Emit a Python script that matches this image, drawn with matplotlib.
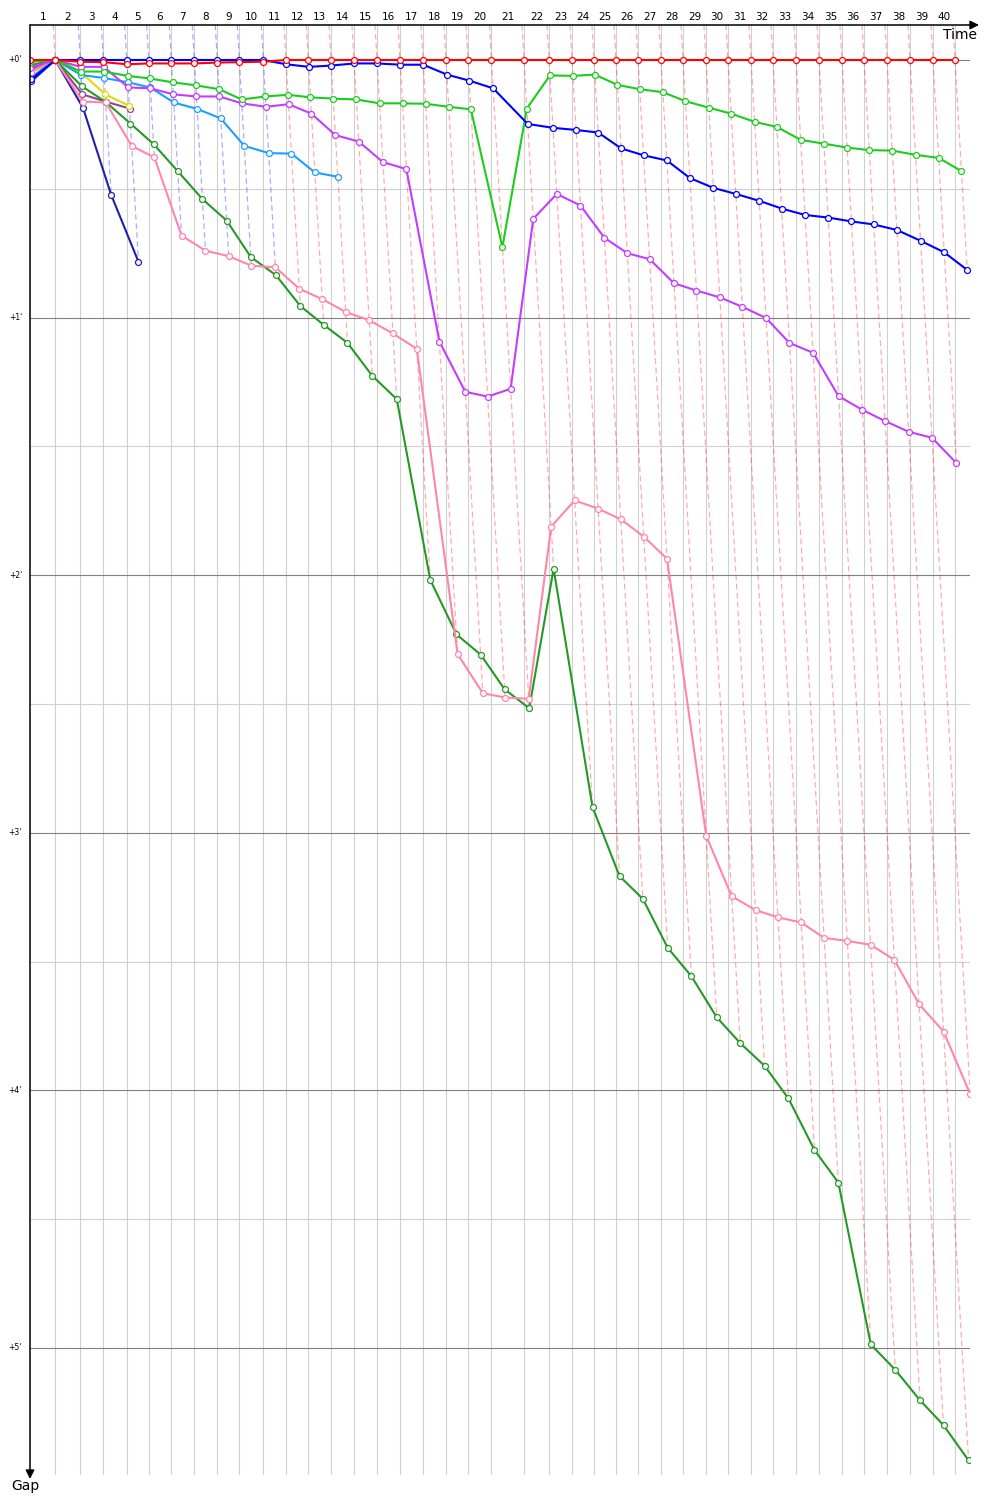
import matplotlib
matplotlib.use('Agg')
import matplotlib.pyplot as plt
import matplotlib.transforms as mtransforms
import numpy as np

plt.rcParams['font.family'] = ['DejaVu Sans']
plt.rcParams['lines.scale_dashes'] = False

# ---------------- data ----------------
lap_numbers = list(range(1, 41))
# leader lap times in seconds (lap 1 .. lap 40)
leader_lap_times = [101.2, 100.0, 92.0, 93.6, 88.0, 90.4, 92.0, 92.0, 88.0, 96.0,
                    90.8, 89.2, 90.8, 92.0, 92.0, 92.0, 92.0, 92.0, 88.0, 94.0,
                    130.0, 100.0, 92.0, 88.0, 88.0, 88.0, 92.0, 88.0, 92.0, 88.0,
                    92.0, 88.0, 92.0, 92.0, 92.0, 88.0, 92.0, 92.0, 92.0, 88.0]

# gaps to the leader in seconds, from lap 0 (start) onward
gap_red = [0.0, 0.0, 0.4, 0.5, 1.0, 0.8, 0.8, 0.8, 0.6, 0.5, 0.4] + [0.0] * 30
gap_blue = [4.5, 0.0] + [0.0] * 9 + [1.0, 1.6, 1.3, 0.8, 0.8, 1.1, 1.1, 3.4, 4.8, 6.6,
                                    14.9, 15.8, 16.3, 16.9, 20.6, 22.2, 23.4, 27.5, 29.8, 31.2,
                                    32.8, 34.6, 36.1, 36.7, 37.6, 38.3, 39.6, 42.1, 44.8, 48.9]
gap_lightgreen = [0.4, 0.0, 2.7, 2.7, 3.7, 4.3, 5.2, 5.9, 6.8, 9.2, 8.5, 8.1, 8.7, 9.0, 9.2,
                  10.1, 10.1, 10.2, 10.9, 11.5, 43.6, 11.3, 3.6, 3.7, 3.4, 5.8, 6.8, 7.5,
                  9.6, 11.1, 12.5, 14.4, 15.6, 18.6, 19.5, 20.4, 21.0, 21.1, 22.1, 22.8, 25.9]
gap_magenta = [1.8, 0.0, 1.6, 1.6, 6.4, 6.6, 8.0, 8.5, 8.5, 10.1, 10.9, 10.3, 12.5, 17.5,
               19.0, 23.8, 25.4, 65.6, 77.3, 78.4, 76.6, 37.0, 31.2, 33.9, 41.4, 45.0, 46.4,
               52.0, 53.7, 55.3, 57.5, 60.1, 65.9, 68.2, 78.3, 81.5, 84.1, 86.6, 88.0, 93.9]
gap_pink = [2.7, 0.0, 9.7, 9.9, 20.0, 22.7, 40.9, 44.4, 45.7, 47.9, 48.3, 53.3, 55.7, 58.7,
            60.6, 63.7, 67.3, 138.4, 147.5, 148.5, 148.8, 108.7, 102.6, 104.5, 107.0, 111.0,
            116.2, 180.7, 194.8, 198.0, 199.7, 200.9, 204.5, 205.2, 206.1, 209.6, 219.9,
            226.3, 240.9]
gap_darkgreen = [1.2, 0.0, 6.1, 9.8, 14.8, 19.6, 25.9, 32.4, 37.4, 45.9, 50.1, 57.3, 61.7,
                 65.9, 73.6, 79.0, 121.1, 133.8, 138.5, 146.6, 151.0, 118.5, 174.0, 190.1,
                 195.4, 206.8, 213.4, 223.0, 229.0, 234.3, 241.9, 253.9, 261.5, 299.2,
                 305.1, 312.2, 318.0, 326.2]
gap_lightblue = [4.0, 0.0, 3.5, 4.2, 5.2, 6.4, 9.9, 11.4, 13.6, 20.0, 21.7, 21.8, 26.2, 27.2]
gap_yellow = [3.0, 0.0, 2.9, 8.0, 10.7]
gap_darkpurple = [2.2, 0.0, 8.0, 9.7, 11.3]
gap_navy = [5.0, 0.0, 11.2, 31.4, 47.0]

gap_ticks = [0, 60, 120, 180, 240, 300]
gap_tick_labels = ["+0'", "+1'", "+2'", "+3'", "+4'", "+5'"]

# (gaps, colour) in priority order (first = preferred leader on ties)
series = [
    (gap_red, '#ff0000'),
    (gap_blue, '#0000ff'),
    (gap_lightgreen, '#1ccc1c'),
    (gap_magenta, '#c43cff'),
    (gap_pink, '#ff86aa'),
    (gap_darkgreen, '#259925'),
    (gap_lightblue, '#1e9eff'),
    (gap_yellow, '#dcdc00'),
    (gap_darkpurple, '#944494'),
    (gap_navy, '#2020aa'),
]

# ---------------- figure ----------------
W, H = 1000, 1500
fig = plt.figure(figsize=(W / 100, H / 100), dpi=100)
ax_left_px, ax_right_px, ax_top_px, ax_bot_px = 30, 970, 25, 1475
ax = fig.add_axes([ax_left_px / W, 1 - ax_bot_px / H,
                   (ax_right_px - ax_left_px) / W, (ax_bot_px - ax_top_px) / H])

x_max = 3760.0
y_top = -8.15
y_bot = 329.6
ax.set_xlim(0, x_max)
ax.set_ylim(y_bot, y_top)
for s in ax.spines.values():
    s.set_visible(False)
ax.set_xticks([])
ax.set_yticks([])

lap_end = np.concatenate([[0.0], np.cumsum(leader_lap_times)])

# horizontal grid
for g in np.arange(30, 330, 60):
    ax.axhline(g, color='#d0d0d0', lw=0.8, zorder=1)
for g in gap_ticks:
    ax.axhline(g, color='#808080', lw=0.8, zorder=1.2)
# vertical lap lines
for t in lap_end[1:]:
    ax.axvline(t, color='#d0d0d0', lw=0.8, zorder=1.1)

# lap lines (dashed) from the leader to the last car of that lap
for n in range(1, len(lap_end)):
    vals = [(g[n], c) for g, c in series if len(g) > n]
    gmin = min(v for v, _ in vals)
    lead_col = next(c for v, c in vals if v == gmin)
    gmax = max(v for v, _ in vals)
    t = lap_end[n]
    ax.plot([t + y_top, t + gmax], [y_top, gmax], color=lead_col, alpha=0.33,
            lw=0.9, linestyle=(0, (4, 2.5)), zorder=2)

# series
z = 3
for g, c in reversed(series):
    g = np.array(g)
    laps = np.arange(len(g))
    x = lap_end[laps] + g
    ax.plot(x, g, color=c, lw=1.5, marker='o', ms=4.3, mfc='white', mec=c,
            mew=0.9, zorder=z)
    z += 0.1

# lap labels on top
trans_top = mtransforms.blended_transform_factory(ax.transData, ax.transAxes)
for i, lap in enumerate(lap_numbers):
    xm = (lap_end[i] + lap_end[i + 1]) / 2
    ax.text(xm, 1 + 8 / (ax_bot_px - ax_top_px), str(lap), transform=trans_top,
            ha='center', va='center', fontsize=7.5, clip_on=False)

# gap labels on left
trans_left = mtransforms.blended_transform_factory(ax.transAxes, ax.transData)
for g, lab in zip(gap_ticks, gap_tick_labels):
    ax.text(-8 / (ax_right_px - ax_left_px), g, lab, transform=trans_left,
            ha='right', va='center', fontsize=5.5, clip_on=False)

# axes arrows
ytop_f = 1 - ax_top_px / H
fig.add_artist(matplotlib.patches.FancyArrowPatch(
    (ax_left_px / W, ytop_f), (979 / W, ytop_f), transform=fig.transFigure,
    arrowstyle='-|>', mutation_scale=13, color='black', lw=1.1, shrinkA=0, shrinkB=0))
fig.add_artist(matplotlib.patches.FancyArrowPatch(
    (ax_left_px / W, ytop_f), (ax_left_px / W, 1 - 1479 / H), transform=fig.transFigure,
    arrowstyle='-|>', mutation_scale=13, color='black', lw=1.1, shrinkA=0, shrinkB=0))

fig.text(977 / W, 1 - 35 / H, 'Time', ha='right', va='center', fontsize=10)
fig.text(25 / W, 1 - 1486 / H, 'Gap', ha='center', va='center', fontsize=10)

fig.savefig('out.png', dpi=100, facecolor='white')
